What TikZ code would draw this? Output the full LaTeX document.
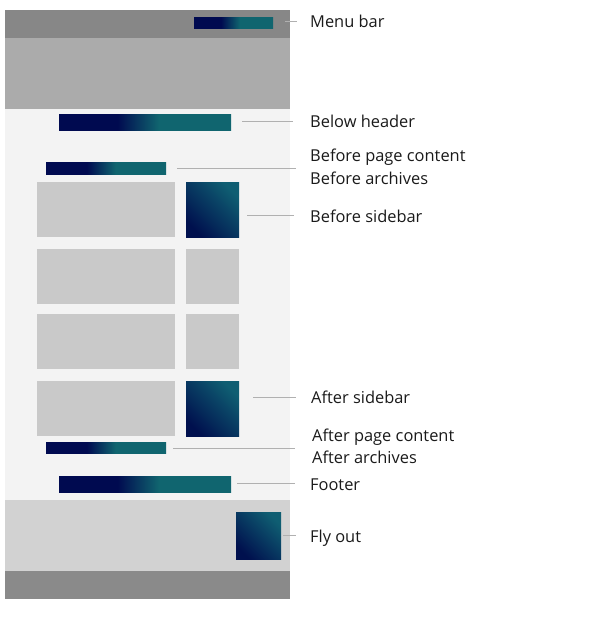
\documentclass[tikz,border=0pt]{standalone}
\usepackage{fontspec}
\setmainfont{Open Sans}
\definecolor{navy}{HTML}{000A50}
\definecolor{teal}{HTML}{10656F}
\definecolor{sqnavy}{HTML}{00104E}
\definecolor{sqteal}{HTML}{0F5E72}
\definecolor{menugray}{HTML}{878787}
\definecolor{headgray}{HTML}{ABABAB}
\definecolor{bodygray}{HTML}{F3F3F3}
\definecolor{boxgray}{HTML}{C9C9C9}
\definecolor{flygray}{HTML}{D2D2D2}
\definecolor{botgray}{HTML}{8A8A8A}
\definecolor{leadgray}{HTML}{B0B0B0}
\definecolor{txt}{HTML}{1A1A1A}
\pgfdeclarehorizontalshading{barshade}{100bp}{color(0bp)=(navy); color(25bp)=(navy); color(42bp)=(navy); color(54bp)=(teal); color(75bp)=(teal); color(100bp)=(teal)}
\pgfdeclarehorizontalshading{sqshade}{100bp}{color(0bp)=(sqnavy); color(25bp)=(sqnavy); color(75bp)=(sqteal); color(100bp)=(sqteal)}
\tikzset{
  bar/.style={draw=none, shading=barshade},
  sq/.style={draw=none, shading=sqshade, shading angle=45},
  leader/.style={draw=leadgray, line width=1bp},
  lbl/.style={anchor=base west, inner sep=0pt, text=txt, font=\fontsize{16.4bp}{22bp}\selectfont},
}
\begin{document}
\begin{tikzpicture}[x=1bp, y=-1bp]
\useasboundingbox (0,0) rectangle (600,617);
% page regions
\fill[bodygray] (5,109) rectangle (290,500);
\fill[menugray] (5,10) rectangle (290,38);
\fill[headgray] (5,38) rectangle (290,109);
\fill[flygray] (5,500) rectangle (290,571);
\fill[botgray] (5,571) rectangle (290,599);
% content boxes
\foreach \t/\b in {182/237, 249/304, 314/369, 381/436}{
  \fill[boxgray] (37,\t) rectangle (175,\b);
}
\fill[boxgray] (186,249) rectangle (239,304);
\fill[boxgray] (186,314) rectangle (239,369);
% gradient elements
\path[bar] (194,18) rectangle (273,29);
\path[bar] (59,115) rectangle (231,131);
\path[bar] (46,163) rectangle (166,174);
\path[sq] (186,182) rectangle (239,237);
\path[sq] (186,381) rectangle (239,436);
\path[bar] (46,442) rectangle (166,453);
\path[bar] (59,476) rectangle (231,492);
\path[sq] (236,512) rectangle (281,559);
% leader end points
\coordinate (m1) at (285,21.5);  \coordinate (m2) at (297,21.5);
\coordinate (h1) at (242,121.5); \coordinate (h2) at (293,121.5);
\coordinate (p1) at (177,168.5); \coordinate (p2) at (296,168.5);
\coordinate (s1) at (247,215.5); \coordinate (s2) at (294,215.5);
\coordinate (a1) at (253,397.5); \coordinate (a2) at (296,397.5);
\coordinate (c1) at (173,448.5); \coordinate (c2) at (295,448.5);
\coordinate (f1) at (237,483.5); \coordinate (f2) at (295,483.5);
\coordinate (o1) at (283,535.5); \coordinate (o2) at (296,535.5);
\foreach \p in {m,h,p,s,a,c,f,o}{ \draw[leader] (\p1) -- (\p2); }
% labels
\node[lbl] (lmenu) at (310,28) {Menu bar};
\node[lbl] (lbelow) at (310,128) {Below header};
\node[lbl] (lbefore) at (310,162) {Before page content};
\node[lbl] (lbeforea) at (310,185) {Before archives};
\node[lbl] (lside) at (310,222) {Before sidebar};
\node[lbl] (laside) at (311,403) {After sidebar};
\node[lbl] (lafter) at (312,441) {After page content};
\node[lbl] (laftera) at (312,463) {After archives};
\node[lbl] (lfoot) at (310,490) {Footer};
\node[lbl] (lfly) at (310,542) {Fly out};
\end{tikzpicture}
\end{document}
